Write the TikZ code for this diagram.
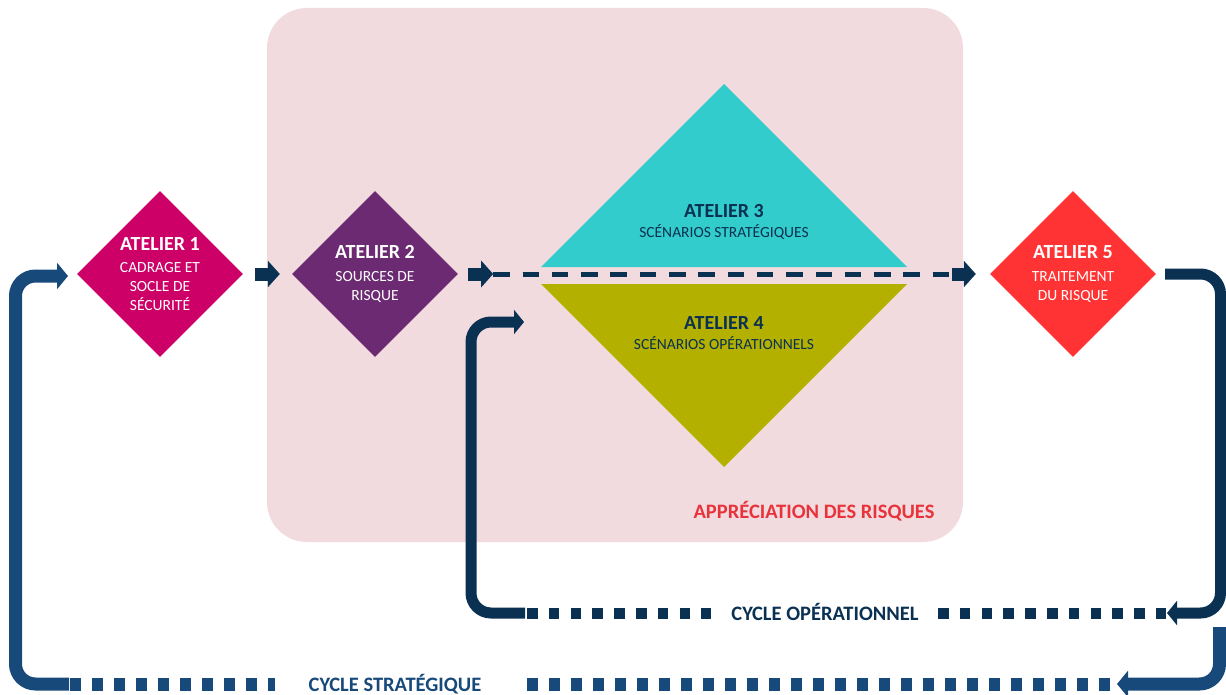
\documentclass[tikz,border=0pt]{standalone}
\usepackage{fontspec}
\setmainfont{Carlito}
\usetikzlibrary{shapes.geometric,arrows.meta}

\definecolor{pinkbg}{HTML}{F2DBDF}
\definecolor{atelierA}{HTML}{CC0066}
\definecolor{atelierB}{HTML}{6B2A71}
\definecolor{atelierC}{HTML}{33CCCC}
\definecolor{atelierD}{HTML}{B3B000}
\definecolor{atelierE}{HTML}{FF3333}
\definecolor{navy}{HTML}{0A3152}
\definecolor{steel}{HTML}{17497A}
\definecolor{riskred}{HTML}{E8333B}

\newcommand{\ateliertitle}[1]{{\fontsize{20}{24}\selectfont\bfseries #1}}

\begin{document}
\begin{tikzpicture}[x=1pt,y=-1pt,
  diam/.style={diamond, aspect=1, minimum width=166pt, minimum height=166pt, inner sep=0pt},
  wtext/.style={text=white, align=center, inner sep=0pt, font=\fontsize{15.5}{19}\selectfont},
  ntext/.style={text=navy, align=center, inner sep=0pt, font=\fontsize{15.5}{19}\selectfont},
  smallarr/.style={draw=navy, line width=13pt, -{Triangle[length=12pt,width=26pt]}},
  midline/.style={draw=navy, line width=5pt, dash pattern=on 16.5pt off 12.8pt},
  opline/.style={draw=navy, line width=11pt},
  opdots/.style={draw=navy, line width=11pt, dash pattern=on 10.5pt off 11.3pt},
  stline/.style={draw=steel, line width=13pt},
  stdots/.style={draw=steel, line width=13pt, dash pattern=on 11pt off 11pt},
  optip/.style={-{Triangle[length=10pt,width=24pt]}},
  sttip/.style={-{Triangle[length=11pt,width=26pt]}},
  cyclelabel/.style={inner sep=0pt, font=\fontsize{20.5}{24}\selectfont\bfseries}
]
\useasboundingbox (0,0) rectangle (1226,695);

% risk assessment area
\fill[pinkbg, rounded corners=40pt] (267,8) rectangle (963,542);
\node[text=riskred, inner sep=0pt, font=\fontsize{20.5}{24}\selectfont\bfseries] (appr) at (814,511) {APPRÉCIATION DES RISQUES};

% workshops 3 and 4 as two facing triangles
\fill[atelierC] (724,84) -- (907,267) -- (541,267) -- cycle;
\fill[atelierD] (541,284) -- (907,284) -- (724,467) -- cycle;
\node[ntext] (a3) at (724,222) {\ateliertitle{ATELIER 3}\\[1.6pt]SCÉNARIOS STRATÉGIQUES};
\node[ntext] (a4) at (724,333) {\ateliertitle{ATELIER 4}\\[1.6pt]SCÉNARIOS OPÉRATIONNELS};

% workshops 1, 2 and 5
\node[diam, fill=atelierA] (a1) at (160,274) {};
\node[diam, fill=atelierB] (a2) at (375,274) {};
\node[diam, fill=atelierE] (a5) at (1073,274) {};
\node[wtext] at (a1) {\ateliertitle{ATELIER 1}\\[3.6pt]CADRAGE ET\\SOCLE DE\\SÉCURITÉ};
\node[wtext] at (a2) {\ateliertitle{ATELIER 2}\\[3.6pt]SOURCES DE\\RISQUE};
\node[wtext] at (a5) {\ateliertitle{ATELIER 5}\\[3.6pt]TRAITEMENT\\DU RISQUE};

% main flow
\draw[smallarr] ([xshift=12pt]a1.east) -- ([xshift=-12pt]a2.west);
\coordinate (m1) at ([xshift=35pt]a2.east);
\coordinate (m2) at ([xshift=-38pt]a5.west);
\draw[smallarr] ([xshift=10pt]a2.east) -- (m1);
\draw[midline] (m1) -- (m2);
\draw[smallarr] (m2) -- ([xshift=-14pt]a5.west);

% operational cycle
\node[cyclelabel, text=navy] (cop) at (825,612) {CYCLE OPÉRATIONNEL};
\coordinate (opR) at (1166,613);
\coordinate (opL) at (527,613);
\coordinate (opIn) at (524,322);
\draw[opline, optip, rounded corners=20pt] ([xshift=9pt]a5.east) -- (1220.5,274) -- (1220.5,613) -- ([xshift=1pt]opR);
\draw[opdots] (938,613) -- (opR);
\draw[opdots] (opL) -- (711,613);
\draw[opline, optip, rounded corners=20pt] ([xshift=-2pt]opL) -- (471,613) -- (471,322) -- (opIn);

% strategic cycle
\node[cyclelabel, text=steel] (cst) at (395,684) {CYCLE STRATÉGIQUE};
\coordinate (stR) at (1110,684);
\coordinate (stL) at (70,684);
\coordinate (stIn) at (68,276);
\draw[stline, sttip, rounded corners=20pt] (1219.5,627) -- (1219.5,684) -- ([xshift=7pt]stR);
\draw[stdots] (527,684) -- (stR);
\draw[stdots] (stL) -- (275,684);
\draw[stline, sttip, rounded corners=20pt] ([xshift=-1pt]stL) -- (15.5,684) -- (15.5,276) -- (stIn);
\end{tikzpicture}
\end{document}
